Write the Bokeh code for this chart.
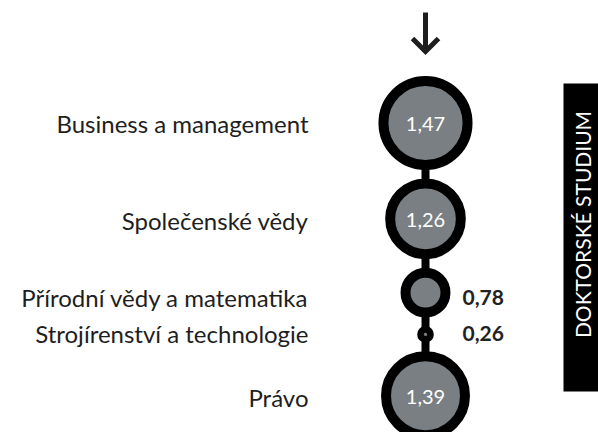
import numpy as np
from bokeh.plotting import figure
from bokeh.models import Range1d, ColumnDataSource
from bokeh.core.properties import value
from bokeh.embed import file_html
from bokeh.resources import INLINE

categories = ["Business a management", "Společenské vědy", "Přírodní vědy a matematika",
              "Strojírenství a technologie", "Právo"]
values = [1.47, 1.26, 0.78, 0.26, 1.39]
value_labels = ["1,47", "1,26", "0,78", "0,26", "1,39"]
panel_title = "DOKTORSKÉ STUDIUM"

FONT = "Lato"
W, H = 598, 432
p = figure(width=W, height=H, output_backend="svg", toolbar_location=None,
           x_range=Range1d(0, W), y_range=Range1d(H, 0),
           min_border=0)
p.axis.visible = False
p.grid.visible = False
p.outline_line_color = None
p.background_fill_color = "white"

cx = 425
scale = 32.0        # outer radius px per unit of value
gap = 8.5
stroke = 10
vals = np.array(values)
r_out = vals * scale
centers = [122.5]
for i in range(1, len(vals)):
    centers.append(centers[-1] + r_out[i - 1] + gap + r_out[i])
centers = np.array(centers)
label_nudge = np.array([0, 2, 5, -1, 2])

# connector
p.segment(x0=[cx], y0=[centers[0]], x1=[cx], y1=[centers[-1]], line_color="black", line_width=8)

src = ColumnDataSource(dict(x=[cx] * len(vals), y=centers, r=r_out - stroke / 2,
                            cat=categories, lab=value_labels, v=vals))
p.circle(x="x", y="y", radius="r", source=src, fill_color="#7a7f83",
         line_color="black", line_width=stroke)

# category labels
p.text(x=[308] * len(vals), y=centers + label_nudge, text=categories, text_align="right",
       text_baseline="middle", text_font=value(FONT), text_font_size="24px",
       text_color="#1e1e1e")

inside = vals >= 1.0
p.text(x=[cx] * int(inside.sum()), y=centers[inside] + 1,
       text=[l for l, f in zip(value_labels, inside) if f],
       text_align="center", text_baseline="middle", text_font=value(FONT),
       text_font_size="20px", text_color="white")
p.text(x=[cx + 37] * int((~inside).sum()), y=centers[~inside] + label_nudge[~inside],
       text=[l for l, f in zip(value_labels, inside) if not f],
       text_align="left", text_baseline="middle", text_font=value(FONT),
       text_font_size="21px", text_font_style="bold", text_color="#222222")

# arrow
p.segment(x0=[cx], y0=[12], x1=[cx], y1=[49], line_color="#1e1e1e", line_width=5)
p.multi_line(xs=[[cx - 13, cx, cx + 13]], ys=[[38, 51, 38]], line_color="#1e1e1e",
             line_width=5, line_join="miter")

# right panel
p.quad(left=[563], right=[598], top=[83], bottom=[391], fill_color="black", line_color=None)
p.text(x=[582], y=[224], text=[panel_title], angle=np.pi / 2, text_align="center",
       text_baseline="middle", text_font=value(FONT), text_font_size="21px",
       text_color="white")

open("out.html", "w").write(file_html(p, INLINE))
